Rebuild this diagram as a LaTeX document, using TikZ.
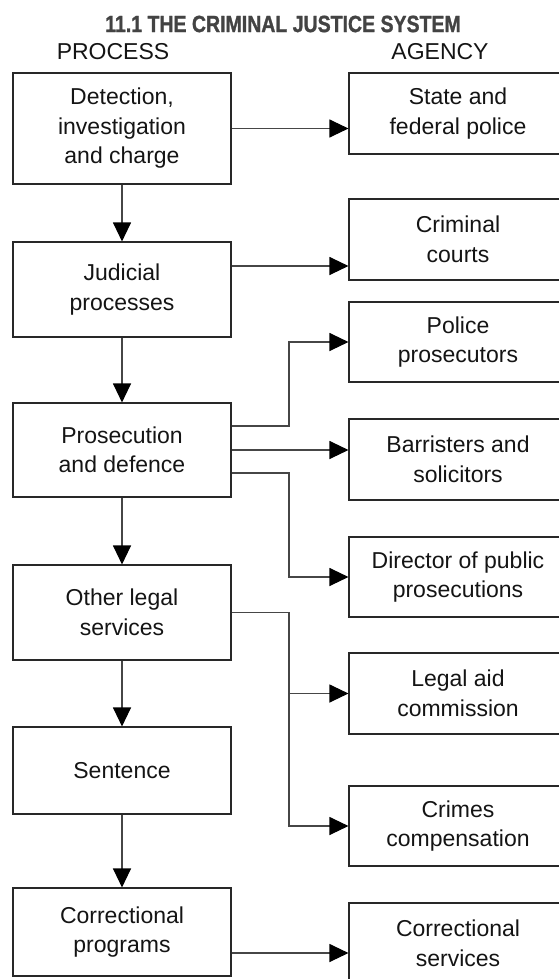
\documentclass[tikz,border=0pt]{standalone}
\usepackage{fontspec}
\setmainfont{Liberation Sans}
\newfontfamily\titlefont[FakeStretch=0.83,FakeBold=1.2]{Liberation Sans Bold}
\usetikzlibrary{arrows.meta}
\definecolor{boxLine}{RGB}{40,40,40}
\definecolor{arrLine}{RGB}{70,70,70}
\definecolor{txtBlack}{RGB}{20,20,20}

\begin{document}
\begin{tikzpicture}[x=1pt, y=-1pt,
      block/.style={rectangle, draw=boxLine, line width=1.1pt, text=txtBlack,
                    minimum width=218pt, align=center,
                    font=\fontsize{23}{29.5}\selectfont},
      head/.style={text=txtBlack, font=\fontsize{23}{28}\selectfont},
      arr/.style={draw=arrLine, line width=1.1pt,
                  -{Triangle[length=19pt, width=18pt, color=black]}}]
      \useasboundingbox (0,0) rectangle (559,979);
      \clip (0,0) rectangle (559,979);
      % headings
      \node[text=txtBlack!80, font=\titlefont\fontsize{23.5}{26}\selectfont] (title) at (283,24) {11.1 THE CRIMINAL JUSTICE SYSTEM};
      \node[head] (process) at (113,52) {PROCESS};
      \node[head] (agency) at (440,52) {AGENCY};
      % process column
      \node[block, minimum height=111pt] (detect) at (122,128.5) {Detection,\\investigation\\and charge};
      \node[block, minimum height=95pt] (judicial) at (122,289.5) {Judicial\\processes};
      \node[block, minimum height=94pt] (prosec) at (122,450) {Prosecution\\and defence};
      \node[block, minimum height=95pt] (otherlegal) at (122,612.5) {Other legal\\services};
      \node[block, minimum height=87pt] (sentence) at (122,770.5) {Sentence};
      \node[block, minimum height=88pt] (corrprog) at (122,932) {Correctional\\programs};
      % agency column
      \node[block, minimum height=81pt] (police) at (458,113.5) {State and\\federal police};
      \node[block, minimum height=81pt] (courts) at (458,239.5) {Criminal\\courts};
      \node[block, minimum height=80pt] (polpros) at (458,342) {Police\\prosecutors};
      \node[block, minimum height=81pt] (barristers) at (458,459.5) {Barristers and\\solicitors};
      \node[block, minimum height=80pt] (dpp) at (458,577) {Director of public\\prosecutions};
      \node[block, minimum height=81pt] (legalaid) at (458,693.5) {Legal aid\\commission};
      \node[block, minimum height=80pt] (compens) at (458,826) {Crimes\\compensation};
      \node[block, minimum height=81pt] (corrserv) at (458,943.5) {Correctional\\services};
      \coordinate (split) at (289,0);
      % process flow
      \draw[arr] (detect) -- (judicial);
      \draw[arr] (judicial) -- (prosec);
      \draw[arr] (prosec) -- (otherlegal);
      \draw[arr] (otherlegal) -- (sentence);
      \draw[arr] (sentence) -- (corrprog);
      % process to agency
      \draw[arr] (detect.east) -- (detect.east -| police.west);
      \draw[arr] ([yshift=23.5pt]judicial.east) -- ([yshift=23.5pt]judicial.east -| courts.west);
      \draw[arr] ([yshift=24pt]prosec.east) -- ([yshift=24pt]prosec.east -| split) |- (polpros.west);
      \draw[arr] (prosec.east) -- (prosec.east -| barristers.west);
      \draw[arr] ([yshift=-23pt]prosec.east) -- ([yshift=-23pt]prosec.east -| split) |- (dpp.west);
      \draw[arr] (otherlegal.east) -- (otherlegal.east -| split) |- (compens.west);
      \draw[arr] (legalaid.west -| split) -- (legalaid.west);
      \draw[arr] ([yshift=-21pt]corrprog.east) -- ([yshift=-21pt]corrprog.east -| corrserv.west);
    \end{tikzpicture}
\end{document}
